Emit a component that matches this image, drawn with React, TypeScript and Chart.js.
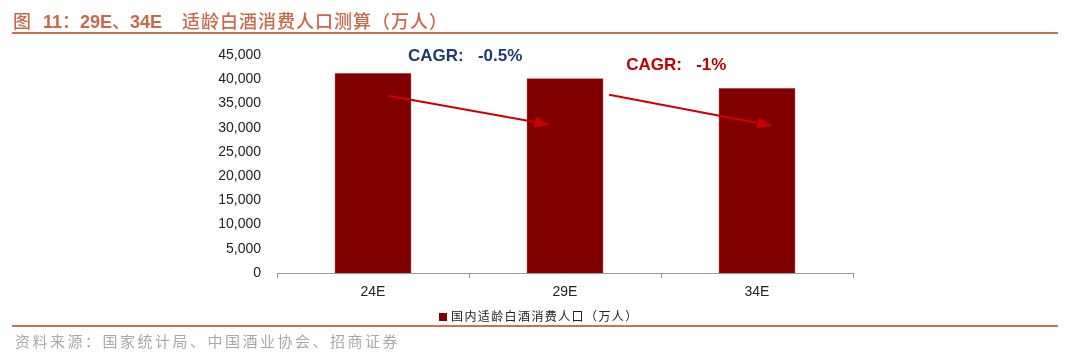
import React, { useEffect, useRef } from "react";
import { Chart, registerables } from "chart.js";

Chart.register(...registerables);

const categories = ["24E", "29E", "34E"];
const population = [41300, 40200, 38200];
const seriesName = "国内适龄白酒消费人口（万人）";
const yMax = 45000;
const yStep = 5000;

// annotations in data units: [xIndex, yValue]
const arrows = [
  { from: [0.08, 36600], to: [0.92, 30600] },
  { from: [1.23, 36800], to: [2.08, 30400] },
];
const cagrLabels = [
  { text: "CAGR:   -0.5%", at: [0.48, 44700], color: "#1F3A6E" },
  { text: "CAGR:   -1%", at: [1.58, 42900], color: "#C00000" },
];

const annotationPlugin = {
  id: "cagrAnnotations",
  afterDatasetsDraw(chart: any) {
    const ctx = chart.ctx;
    const xs = chart.scales.x;
    const ys = chart.scales.y;
    ctx.save();
    arrows.forEach((a) => {
      const x1 = xs.getPixelForValue(a.from[0]);
      const y1 = ys.getPixelForValue(a.from[1]);
      const x2 = xs.getPixelForValue(a.to[0]);
      const y2 = ys.getPixelForValue(a.to[1]);
      const ang = Math.atan2(y2 - y1, x2 - x1);
      const headLen = 15;
      const headW = 5.5;
      const bx = x2 - headLen * Math.cos(ang);
      const by = y2 - headLen * Math.sin(ang);
      ctx.strokeStyle = "#CC0000";
      ctx.fillStyle = "#CC0000";
      ctx.lineWidth = 2;
      ctx.beginPath();
      ctx.moveTo(x1, y1);
      ctx.lineTo(bx, by);
      ctx.stroke();
      ctx.beginPath();
      ctx.moveTo(x2, y2);
      ctx.lineTo(bx + headW * Math.sin(ang), by - headW * Math.cos(ang));
      ctx.lineTo(bx - headW * Math.sin(ang), by + headW * Math.cos(ang));
      ctx.closePath();
      ctx.fill();
    });
    cagrLabels.forEach((l) => {
      ctx.font = "bold 17px 'Liberation Sans', Arial, sans-serif";
      ctx.fillStyle = l.color;
      ctx.textAlign = "center";
      ctx.textBaseline = "middle";
      ctx.fillText(l.text, xs.getPixelForValue(l.at[0]), ys.getPixelForValue(l.at[1]));
    });
    ctx.restore();
  },
};

export default function App() {
  const ref = useRef<HTMLCanvasElement | null>(null);
  useEffect(() => {
    if (!ref.current) return;
    const chart = new Chart(ref.current, {
      type: "bar",
      data: {
        labels: categories,
        datasets: [
          {
            label: seriesName,
            data: population,
            backgroundColor: "#800000",
            borderColor: "#B04040",
            borderWidth: 0.5,
            categoryPercentage: 0.4,
            barPercentage: 1,
          },
        ],
      },
      options: {
        responsive: false,
        animation: false,
        layout: { padding: { left: 200, right: 227, top: 55, bottom: 55 } },
        plugins: { legend: { display: false }, tooltip: { enabled: false }, title: { display: false } },
        scales: {
          x: {
            offset: true,
            grid: { display: true, drawOnChartArea: false, offset: true, tickLength: 5, color: "#999" },
            border: { display: true, color: "#999", width: 1 },
            ticks: { color: "#222", font: { size: 14, family: "'Liberation Sans', Arial, sans-serif" }, padding: 6 },
            afterFit(s: any) { s.height = 30; },
          },
          y: {
            min: 0,
            max: yMax,
            ticks: {
              stepSize: yStep,
              color: "#222",
              padding: 16,
              font: { size: 14, family: "'Liberation Sans', Arial, sans-serif" },
              callback: (v: any) => Number(v).toLocaleString("en-US"),
            },
            grid: { display: false, drawTicks: false },
            border: { display: false },
            afterFit(s: any) { s.width = 77; },
          },
        },
      },
      plugins: [annotationPlugin],
    });
    return () => chart.destroy();
  }, []);

  const cjk = "'Noto Sans CJK SC', 'Noto Sans', sans-serif";
  const lat = "'Liberation Sans', Arial, sans-serif";
  const titleColor = "#C8694A";
  const cj = { fontFamily: cjk, fontWeight: 500 as const };
  const lb = { fontFamily: lat, fontWeight: 700 as const };
  return (
    <div style={{ position: "fixed", left: 0, top: 0, width: 1080, height: 358, background: "#fff", overflow: "hidden" }}>
      <canvas ref={ref} width={1080} height={358} style={{ position: "absolute", left: 0, top: 0 }} />
      <div style={{ position: "absolute", left: 13, top: 8, fontSize: 18, color: titleColor, lineHeight: "24px", whiteSpace: "nowrap" }}>
        <span style={cj}>图</span>
        <span style={{ ...lb, marginLeft: 12 }}>11</span>
        <span style={cj}>：</span>
        <span style={lb}>29E</span>
        <span style={cj}>、</span>
        <span style={lb}>34E</span>
        <span style={{ ...cj, marginLeft: 20, fontSize: 18, letterSpacing: 1 }}>适龄白酒消费人口测算（万人）</span>
      </div>
      <div style={{ position: "absolute", left: 12, top: 32, width: 1046, height: 2, background: "#C8734F" }} />
      <div style={{ position: "absolute", left: 439, top: 313, width: 8, height: 8, background: "#800000" }} />
      <div style={{ position: "absolute", left: 451, top: 307, fontFamily: cjk, fontSize: 12, letterSpacing: 1.4, color: "#222", lineHeight: "18px", whiteSpace: "nowrap" }}>
        {seriesName}
      </div>
      <div style={{ position: "absolute", left: 12, top: 325, width: 1046, height: 2, background: "#C8734F" }} />
      <div style={{ position: "absolute", left: 15, top: 331, fontFamily: cjk, fontSize: 15, letterSpacing: 2.5, color: "#A8A8A8", lineHeight: "20px", whiteSpace: "nowrap" }}>
        资料来源：国家统计局、中国酒业协会、招商证券
      </div>
    </div>
  );
}
